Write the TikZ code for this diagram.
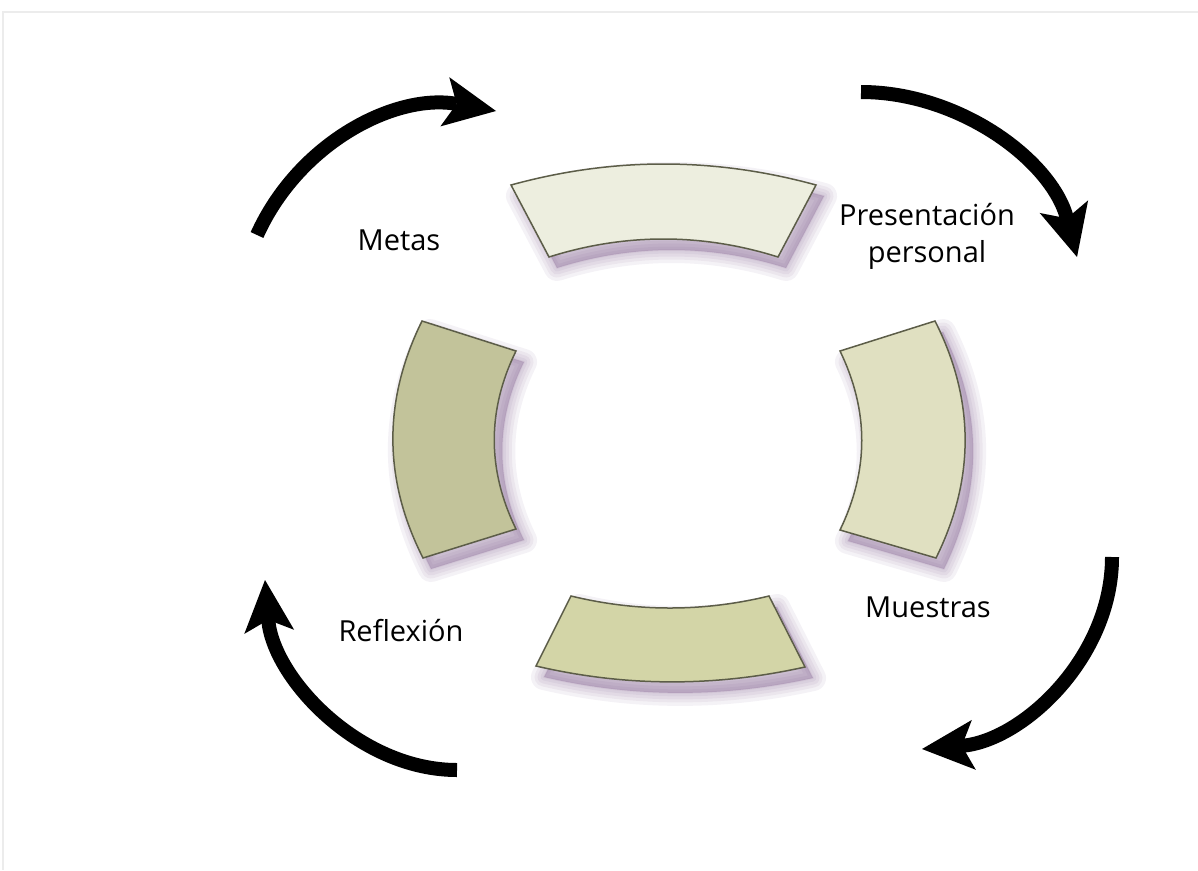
\documentclass[tikz,border=0pt]{standalone}
\usepackage{fontspec}
\setmainfont{Open Sans}
\usepackage{tikz}
\usetikzlibrary{arrows.meta,positioning}
\definecolor{segtop}{RGB}{237,238,223}
\definecolor{segright}{RGB}{224,224,193}
\definecolor{segbottom}{RGB}{211,213,167}
\definecolor{segleft}{RGB}{194,195,154}
\definecolor{segline}{RGB}{92,93,72}
\definecolor{shadowpurple}{RGB}{120,85,135}
\definecolor{framegrey}{RGB}{236,236,236}

% segment outlines (pixel coordinates, y downwards)
\def\topPath{(511,185) .. controls (613,157) and (714,157) .. (816,185) -- (778,257) .. controls (702,233) and (625,233) .. (549,257) -- cycle}
\def\leftPath{(422,321) .. controls (383,400) and (383,479) .. (423,558) -- (516,529) .. controls (487,470) and (487,410) .. (516,351) -- cycle}
\def\rightPath{(840,351) .. controls (869,411) and (869,470) .. (840,530) -- (936,558) .. controls (975,479) and (975,400) .. (935,321) -- cycle}
\def\bottomPath{(571,596) .. controls (637,612) and (703,612) .. (769,596) -- (805,667) .. controls (715,687) and (626,687) .. (536,666) -- cycle}

\begin{document}
\begin{tikzpicture}[x=1pt,y=-1pt]

\tikzset{segment/.style={draw=segline,line width=1.5pt,line join=miter},
cyclearrow/.style={line width=14pt,-{Stealth[length=52pt,width=50pt,inset=12pt,line width=0pt]}},
cyclelabel/.style={font=\fontsize{29}{37}\selectfont,align=center,inner sep=0pt}}

\useasboundingbox (0,0) rectangle (1198,870);

% Frame
\draw[framegrey,line width=2pt] (3,870) -- (3,12) -- (1198,12);

% Shadows
\foreach \p in {\topPath,\leftPath,\rightPath,\bottomPath}
  \foreach \w in {26,19,13,7,2}
    \path[fill=shadowpurple,draw=shadowpurple,line width=\w pt,line join=round,opacity=0.08,shift={(8,11)}] \p;

% Segments
\draw[segment,fill=segtop] \topPath;
\draw[segment,fill=segleft] \leftPath;
\draw[segment,fill=segright] \rightPath;
\draw[segment,fill=segbottom] \bottomPath;

% Labels
\node[cyclelabel] (metas) at (399,240) {Metas};
\node[cyclelabel] (presentacion) at (927,236) {Presentación\\personal};
\node[cyclelabel] (muestras) at (928,607) {Muestras};
\node[cyclelabel] (reflexion) at (401,631) {Reflexión};

% Arrow ends
\coordinate (metasTail) at (257,235); \coordinate (metasTip) at (496,111);
\coordinate (presTail) at (861,92); \coordinate (presTip) at (1077,257);
\coordinate (muesTail) at (1112,557); \coordinate (muesTip) at (922,749);
\coordinate (reflTail) at (457,770); \coordinate (reflTip) at (265,580);

% Arrows
\draw[cyclearrow] (metasTail) .. controls (299,142) and (396,93) .. (metasTip);
\draw[cyclearrow] (presTail) .. controls (960,92) and (1052,161) .. (presTip);
\draw[cyclearrow] (muesTail) .. controls (1112,658) and (1022,741) .. (muesTip);
\draw[cyclearrow] (reflTail) .. controls (359,770) and (273,678) .. (reflTip);

\end{tikzpicture}
\end{document}
